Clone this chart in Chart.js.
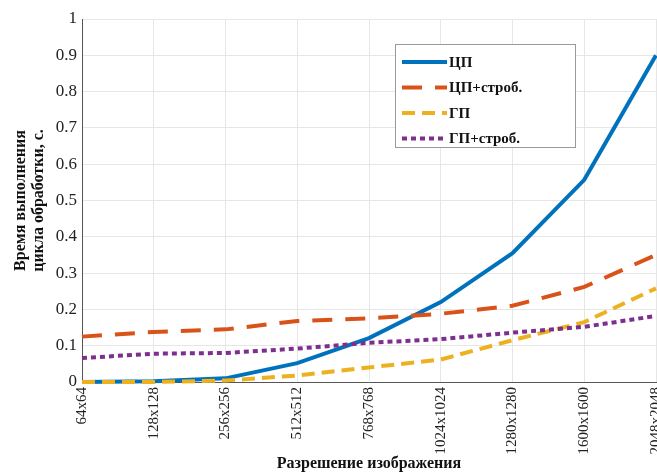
<!DOCTYPE html>
<html lang="ru">
<head>
<meta charset="UTF-8">
<title>Время выполнения цикла обработки</title>
<script src="https://cdn.jsdelivr.net/npm/chart.js@4.4.1/dist/chart.umd.min.js"></script>
<style>
    html, body { margin: 0; padding: 0; background: #fff; overflow: hidden; }
    .chart-wrap { width: 657px; height: 473px; position: relative; }
</style>
</head>
<body>
<div class="chart-wrap"><canvas id="timeChart"></canvas></div>
<script>
// Data
const resolutions = ['64x64', '128x128', '256x256', '512x512', '768x768', '1024x1024', '1280x1280', '1600x1600', '2048x2048'];
const cpu       = [0.000, 0.002, 0.010, 0.052, 0.121, 0.220, 0.355, 0.557, 0.900];
const cpuStrob  = [0.125, 0.138, 0.145, 0.168, 0.175, 0.188, 0.210, 0.262, 0.350];
const gpu       = [0.000, 0.000, 0.004, 0.018, 0.040, 0.062, 0.115, 0.165, 0.258];
const gpuStrob  = [0.066, 0.078, 0.080, 0.092, 0.108, 0.118, 0.136, 0.152, 0.182];
const yTicks    = [0, 0.1, 0.2, 0.3, 0.4, 0.5, 0.6, 0.7, 0.8, 0.9, 1];

const serif = '"Liberation Serif", "Times New Roman", serif';

// Legend drawn inside the plot, MATLAB style
const insideLegend = {
    id: 'insideLegend',
    afterDatasetsDraw(chart) {
        const ctx = chart.ctx;
        const box = { x: 395, y: 44, w: 180, h: 103 };
        ctx.save();
        ctx.fillStyle = '#fff';
        ctx.fillRect(box.x, box.y, box.w, box.h);
        ctx.strokeStyle = '#999';
        ctx.lineWidth = 1;
        ctx.strokeRect(box.x + 0.5, box.y + 0.5, box.w, box.h);

        chart.data.datasets.forEach((ds, i) => {
            const y = box.y + 18 + i * 25.5;
            ctx.beginPath();
            ctx.strokeStyle = ds.borderColor;
            ctx.lineWidth = ds.borderWidth;
            ctx.setLineDash(ds.borderDash || []);
            ctx.moveTo(box.x + 7, y);
            ctx.lineTo(box.x + 52, y);
            ctx.stroke();
            ctx.setLineDash([]);
            ctx.fillStyle = '#111';
            ctx.font = 'bold 15px ' + serif;
            ctx.textBaseline = 'middle';
            ctx.fillText(ds.label, box.x + 54, y + 1);
        });
        ctx.restore();
    }
};

document.addEventListener('DOMContentLoaded', function() {
    const ctx = document.getElementById('timeChart').getContext('2d');

    new Chart(ctx, {
        type: 'line',
        data: {
            labels: resolutions,
            datasets: [
                { label: 'ЦП', data: cpu, borderColor: '#0072BD', borderWidth: 4, order: 4 },
                { label: 'ЦП+строб.', data: cpuStrob, borderColor: '#D95319', borderWidth: 4, borderDash: [20, 13], order: 3 },
                { label: 'ГП', data: gpu, borderColor: '#EDB120', borderWidth: 4, borderDash: [13, 7], order: 2 },
                { label: 'ГП+строб.', data: gpuStrob, borderColor: '#7E2F8E', borderWidth: 4, borderDash: [5, 4], order: 1 }
            ]
        },
        options: {
            responsive: true,
            maintainAspectRatio: false,
            animation: false,
            layout: { padding: { top: 19, left: 12, right: 1, bottom: 0 } },
            elements: {
                point: { radius: 0 },
                line: { tension: 0, fill: false, borderCapStyle: 'butt' }
            },
            datasets: { line: { clip: 4 } },
            plugins: {
                legend: { display: false },
                tooltip: { enabled: false }
            },
            scales: {
                x: {
                    offset: false,
                    grid: { color: '#e6e6e6', drawTicks: false },
                    border: { color: '#555', width: 1 },
                    ticks: {
                        autoSkip: false,
                        maxRotation: 90,
                        minRotation: 90,
                        padding: 5,
                        color: '#222',
                        font: { family: serif, size: 15 }
                    },
                    title: {
                        display: true,
                        text: 'Разрешение изображения',
                        color: '#111',
                        padding: { top: 0, bottom: 0 },
                        font: { family: serif, size: 16, weight: 'bold' }
                    },
                    afterFit: function(scale) {
                        // let the last label run off the edge like the original
                        scale.paddingLeft = 0;
                        scale.paddingRight = 0;
                        scale.height = 91;
                    }
                },
                y: {
                    min: 0,
                    max: 1,
                    afterBuildTicks: function(scale) {
                        scale.ticks = yTicks.map(v => ({ value: v }));
                    },
                    grid: { color: '#e6e6e6', drawTicks: false },
                    border: { color: '#555', width: 1 },
                    ticks: {
                        padding: 5,
                        color: '#222',
                        font: { family: serif, size: 17 },
                        callback: function(value) {
                            return String(Math.round(value * 10) / 10);
                        }
                    },
                    title: {
                        display: true,
                        text: ['Время выполнения', 'цикла обработки, с.'],
                        color: '#111',
                        padding: { top: 0, bottom: 0 },
                        font: { family: serif, size: 16, weight: 'bold', lineHeight: 1.1 }
                    },
                    afterFit: function(scale) {
                        scale.paddingTop = 0;
                        scale.paddingBottom = 0;
                        scale.width = 70;
                    }
                }
            }
        },
        plugins: [insideLegend]
    });
});
</script>
</body>
</html>
